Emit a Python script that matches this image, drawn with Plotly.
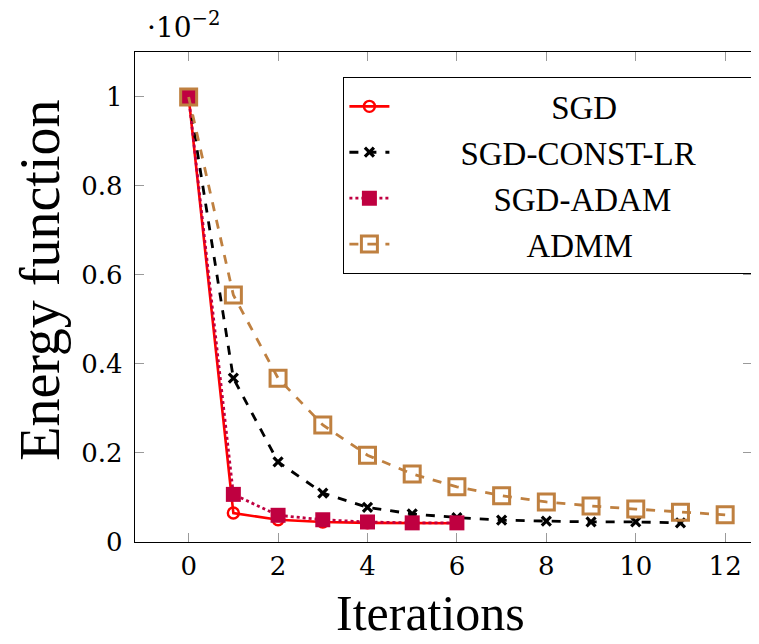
import plotly.graph_objects as go

sgd_x = [0, 1, 2, 3, 4, 5, 6]
sgd_y = [1.0, 0.065, 0.05, 0.045, 0.043, 0.042, 0.042]

const_x = [0, 1, 2, 3, 4, 5, 6, 7, 8, 9, 10, 11]
const_y = [1.0, 0.368, 0.18, 0.11, 0.078, 0.063, 0.055, 0.049, 0.047, 0.045, 0.045, 0.043]

adam_x = [0, 1, 2, 3, 4, 5, 6]
adam_y = [1.0, 0.107, 0.06, 0.05, 0.045, 0.043, 0.043]

admm_x = [0, 1, 2, 3, 4, 5, 6, 7, 8, 9, 10, 11, 12]
admm_y = [1.0, 0.555, 0.368, 0.263, 0.195, 0.153, 0.124, 0.104, 0.09, 0.081, 0.074, 0.067, 0.061]

x_ticks = [0, 2, 4, 6, 8, 10, 12]
y_ticks = [0, 0.2, 0.4, 0.6, 0.8, 1.0]
y_tick_text = ["0", "0.2", "0.4", "0.6", "0.8", "1"]

series_names = ["SGD", "SGD-CONST-LR", "SGD-ADAM", "ADMM"]
x_title = "Iterations"
y_title = "Energy function"

FONT = "Liberation Serif"
TICKFONT = "DejaVu Serif"
RED = "#FF0000"
PURPLE = "#BF0040"
BROWN = "#BF8040"
NB = "\u00a0"
# leading / trailing padding (non-breaking spaces) so that legend labels look centred
pads = [(19, 0), (8, 6), (12, 0), (16, 0)]
legend_labels = [NB * a + n + NB * b for n, (a, b) in zip(series_names, pads)]

fig = go.Figure()
fig.add_trace(go.Scatter(x=sgd_x, y=sgd_y, name=legend_labels[0], mode="lines+markers",
                         line=dict(color=RED, width=2.6),
                         marker=dict(symbol="circle-open", size=11, color=RED, line=dict(width=2.4))))
fig.add_trace(go.Scatter(x=const_x, y=const_y, name=legend_labels[1], mode="lines+markers",
                         line=dict(color="black", width=2.8, dash="dash"),
                         marker=dict(symbol="x-thin", size=9, color="black", line=dict(width=3.2, color="black"))))
fig.add_trace(go.Scatter(x=adam_x, y=adam_y, name=legend_labels[2], mode="lines+markers",
                         line=dict(color=PURPLE, width=2.8, dash="dot"),
                         marker=dict(symbol="square", size=15, color=PURPLE)))
fig.add_trace(go.Scatter(x=admm_x, y=admm_y, name=legend_labels[3], mode="lines+markers",
                         line=dict(color=BROWN, width=2.8, dash="dash"),
                         marker=dict(symbol="square-open", size=16, color=BROWN, line=dict(width=3))))

axis_common = dict(showgrid=False, zeroline=False, showline=True, linecolor="black", linewidth=1.4,
                   mirror="ticks", ticks="inside", tickcolor="#9a9a9a", ticklen=9, tickwidth=1.4,
                   automargin=False,
                   tickfont=dict(family=TICKFONT, size=26, color="black"))

fig.update_xaxes(range=[-1.2, 12.6], tickvals=x_ticks, ticklabelstandoff=1, **axis_common)
fig.update_yaxes(range=[0, 1.101], tickvals=y_ticks, ticktext=y_tick_text, ticklabelstandoff=6,
                 **axis_common)

# axis titles (placed as annotations to match the reference offsets)
fig.add_annotation(x=0.5, y=0, xref="paper", yref="paper", xanchor="center", yanchor="middle",
                   xshift=-13, yshift=-71, showarrow=False, text=x_title,
                   font=dict(family=FONT, size=50, color="black"))
fig.add_annotation(x=0, y=0.533, xref="paper", yref="paper", xanchor="center", yanchor="middle",
                   xshift=-95, showarrow=False, text=y_title, textangle=-90,
                   font=dict(family=FONT, size=56, color="black"))

fig.add_annotation(x=0, y=1, xref="paper", yref="paper", xanchor="left", yanchor="bottom",
                   xshift=10, yshift=6, showarrow=False,
                   text="·10<sup>−2</sup>", font=dict(family=TICKFONT, size=28, color="black"))

fig.update_layout(
    width=751, height=636,
    margin=dict(l=127, r=7, t=44, b=102),
    paper_bgcolor="white", plot_bgcolor="white",
    font=dict(family=FONT, color="black"),
    showlegend=True,
    legend=dict(x=1, y=0.949, xanchor="right", yanchor="top",
                bgcolor="white", bordercolor="black", borderwidth=1.4,
                font=dict(family=FONT, size=33, color="black"),
                itemwidth=40, tracegroupgap=0),
)

fig.write_html("out.html")
